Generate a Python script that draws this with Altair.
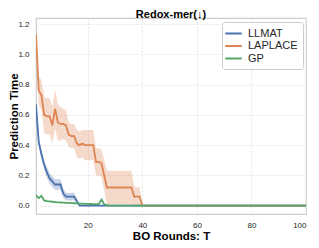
import altair as alt
import pandas as pd

SERIES = ["LLMAT", "LAPLACE", "GP"]
COLORS = ["#4c72b0", "#dd8452", "#55a868"]

X_TICKS = [20, 40, 60, 80, 100]
Y_TICKS = [0.0, 0.2, 0.4, 0.6, 0.8, 1.0, 1.2]

# LLMAT
llmat_t = list(range(1, 18)) + [100]
llmat_mean = [0.67, 0.42, 0.34, 0.27, 0.22, 0.18, 0.16, 0.14, 0.14, 0.14,
              0.08, 0.06, 0.06, 0.06, 0.06, 0.03, 0.0, 0.0]
llmat_sd = [0.02, 0.02, 0.03, 0.03, 0.035, 0.035, 0.035, 0.035, 0.035, 0.035,
            0.03, 0.025, 0.025, 0.025, 0.025, 0.015, 0.0, 0.0]

# LAPLACE
laplace_t = list(range(1, 41)) + [100]
laplace_mean = [1.13, 0.76, 0.73, 0.60, 0.59, 0.59, 0.53, 0.64, 0.55, 0.54,
                0.54, 0.53, 0.47, 0.46, 0.46, 0.41, 0.40, 0.41, 0.40, 0.40,
                0.40, 0.40, 0.29, 0.29, 0.28, 0.20, 0.12, 0.12, 0.12, 0.12,
                0.12, 0.12, 0.12, 0.12, 0.12, 0.12, 0.06, 0.06, 0.06, 0.0,
                0.0]
laplace_sd = [0.03, 0.09, 0.10, 0.12, 0.12, 0.12, 0.12, 0.13, 0.12, 0.11,
              0.10, 0.10, 0.08, 0.08, 0.08, 0.09, 0.09, 0.09, 0.10, 0.10,
              0.10, 0.10, 0.09, 0.09, 0.09, 0.10, 0.11, 0.11, 0.11, 0.11,
              0.11, 0.11, 0.11, 0.11, 0.11, 0.11, 0.07, 0.06, 0.06, 0.0,
              0.0]

# GP
gp_t = list(range(1, 29)) + [100]
gp_mean = [0.07, 0.05, 0.065, 0.035, 0.03, 0.028, 0.026, 0.024, 0.022, 0.021,
           0.02, 0.019, 0.018, 0.017, 0.016, 0.015, 0.014, 0.013, 0.012, 0.012,
           0.011, 0.01, 0.01, 0.01, 0.04, 0.01, 0.003, 0.0, 0.0]
gp_sd = [0.01, 0.008, 0.008, 0.005, 0.004, 0.003, 0.003, 0.003, 0.003, 0.003,
         0.003, 0.003, 0.003, 0.003, 0.003, 0.003, 0.003, 0.003, 0.003, 0.003,
         0.003, 0.003, 0.003, 0.003, 0.006, 0.003, 0.002, 0.0, 0.0]

rows = []
for name, ts, ms, sds in [("LLMAT", llmat_t, llmat_mean, llmat_sd),
                          ("LAPLACE", laplace_t, laplace_mean, laplace_sd),
                          ("GP", gp_t, gp_mean, gp_sd)]:
    for t, m, s in zip(ts, ms, sds):
        rows.append({"method": name, "T": t, "mean": m, "lo": m - s, "hi": m + s})
df = pd.DataFrame(rows)

FONT = "Liberation Sans"

x_scale = alt.Scale(domain=[1, 100], nice=False, zero=False)
y_scale = alt.Scale(domain=[-0.055, 1.24], nice=False, zero=False)
x_axis = alt.Axis(values=X_TICKS, title="BO Rounds: T", format="d")
y_axis = alt.Axis(values=Y_TICKS, title="Prediction Time", format=".1f")

x_enc = alt.X("T:Q", scale=x_scale, axis=x_axis)

color_scale = alt.Scale(domain=SERIES, range=COLORS)
legend = alt.Legend(orient="none", legendX=186, legendY=4, title=None,
                    symbolType="M-1.5,0H1.5", symbolSize=121, symbolStrokeWidth=2,
                    labelFontSize=11, labelFont=FONT, labelColor="#262626",
                    padding=5, rowPadding=0.5, labelOffset=8,
                    fillColor="white", strokeColor="#cccccc", cornerRadius=3)

base = alt.Chart(df)

layers = []
for name, col in zip(SERIES, COLORS):
    layers.append(
        base.transform_filter(alt.datum.method == name)
        .mark_area(opacity=0.3, clip=True, color=col)
        .encode(x=x_enc, y=alt.Y("lo:Q", scale=y_scale, axis=y_axis), y2="hi:Q")
    )
for name in SERIES:
    layers.append(
        base.transform_filter(alt.datum.method == name)
        .mark_line(strokeWidth=1.8, clip=True)
        .encode(x=x_enc, y=alt.Y("mean:Q", scale=y_scale, axis=y_axis),
                color=alt.Color("method:N", scale=color_scale, legend=legend))
    )

chart = alt.layer(*layers).properties(
    width=270, height=196,
    title=alt.Title("Redox-mer(↓)", fontSize=11, font=FONT, fontWeight="bold",
                    color="#000000", offset=1, dy=3, anchor="middle"),
    autosize=alt.AutoSizeParams(type="none"),
    padding={"left": 28, "top": 10, "right": 5, "bottom": 26},
).configure_view(
    stroke="#cccccc", strokeWidth=1.2
).configure_axis(
    domain=False, ticks=False, tickSize=0, labelOverlap=False,
    grid=True, gridColor="#dddddd", gridDash=[2, 2], gridWidth=0.8,
    labelFont=FONT, labelFontSize=8, labelColor="#262626", labelPadding=7,
    titleFont=FONT, titleFontSize=11.5, titleFontWeight="bold", titleColor="#000000",
).configure_axisY(
    titlePadding=0.5, titleBaseline="alphabetic"
).configure_axisX(
    titlePadding=1
)

chart.save("out.html", embed_options={"renderer": "svg", "actions": False})
